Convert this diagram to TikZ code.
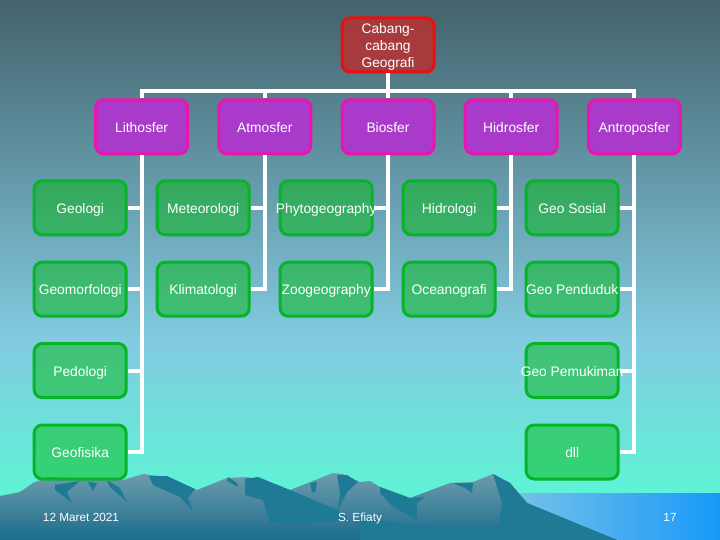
\documentclass[tikz,border=0pt]{standalone}
\usepackage{fontspec}
\setmainfont{Liberation Sans}
\usepackage{tikz}
\usetikzlibrary{positioning}
\definecolor{langitatas}{HTML}{44626C}
\definecolor{langittengah}{HTML}{82CBE0}
\definecolor{langitbawah}{HTML}{5CF5D5}
\definecolor{gunungatas}{HTML}{6E9CAC}
\definecolor{gunungbawah}{HTML}{1B6C8C}
\definecolor{bayangan}{HTML}{1F7A95}
\newcommand{\lebar}[1]{\makebox[0pt]{#1}}
\tikzset{
    %Define style for boxes
    kotak/.style={
           rectangle,
           rounded corners=8pt,
           line width=3pt,
           minimum width=92pt,
           minimum height=54pt,
           inner sep=0pt,
           align=center,
           text=white,
           text opacity=1,
           text height=13pt,
           text depth=2pt,
           font=\fontsize{13.8}{17}\selectfont},
    akar/.style={
           kotak,
           text height=47pt,
           draw={rgb,255:red,232;green,16;blue,16},
           fill={rgb,255:red,183;green,50;blue,50},
           fill opacity=0.85},
    cabang/.style={
           kotak,
           draw={rgb,255:red,232;green,21;blue,176},
           fill={rgb,255:red,175;green,55;blue,205},
           fill opacity=0.95},
    ranting/.style={
           kotak,
           draw={rgb,255:red,6;green,180;blue,40},
           fill={rgb,255:red,5;green,185;blue,20},
           fill opacity=0.5},
    % Define line style
    garis/.style={
           draw=white,
           line width=4pt},
    % Node for footer
    kaki/.style={
           text=white,
           inner sep=0pt,
           text height=10pt,
           text depth=2pt,
           font=\fontsize{11.8}{14}\selectfont},
    bayang/.style={
           fill=bayangan}
}
\begin{document}
\begin{tikzpicture}[x=1pt, y=-1pt, on grid]
    \useasboundingbox (0,0) rectangle (720,540);
    % background
    \shade[top color=langitatas, bottom color=langittengah] (0,0) rectangle (720,340);
    \shade[top color=langittengah, bottom color=langitbawah] (0,340) rectangle (720,500);
    \shade[left color={rgb,255:red,130;green,198;blue,232}, right color={rgb,255:red,24;green,153;blue,248}] (490,493) rectangle (720,540);
    % mountains
    \shade[top color=gunungatas, bottom color=gunungbawah]
        (0,496) -- (20,492) -- (33,483) -- (48,477) -- (77,478) -- (107,479) -- (123,480)
        -- (143,474) -- (167,477) -- (197,490) -- (227,478) -- (248,477) -- (290,490)
        -- (333,473) -- (343,474) -- (360,482) -- (370,481) -- (380,487) -- (410,498)
        -- (450,483) -- (473,482) -- (493,474) -- (510,483) -- (527,503) -- (573,522)
        -- (617,540) -- (0,540) -- cycle;
    \fill[bayang] (55,485) -- (80,481) -- (67,492) -- (72,503) -- (55,490) -- cycle;
    \fill[bayang] (88,482) -- (97,483) -- (93,491) -- cycle;
    \fill[bayang] (107,480) -- (120,488) -- (127,502) -- (110,487) -- cycle;
    \fill[bayang] (149,476) -- (167,476) -- (195,489) -- (188,498) -- (193,511) -- (180,497) -- (153,485) -- cycle;
    \fill[bayang] (228,477) -- (237,483) -- (238,487) -- (227,481) -- cycle;
    \fill[bayang] (245,479) -- (258,477) -- (290,490) -- (337,510) -- (350,520) -- (300,524) -- (270,523) -- (263,500) -- (245,495) -- cycle;
    \fill[bayang] (310,483) -- (317,482) -- (315,493) -- (312,492) -- cycle;
    \fill[bayang] (337,475) -- (347,475) -- (358,482) -- (347,492) -- (338,510) -- (340,493) -- cycle;
    \fill[bayang] (380,487) -- (410,498) -- (425,497) -- (417,503) -- (417,520) -- (393,507) -- (380,493) -- cycle;
    \fill[bayang] (453,483) -- (473,483) -- (472,493) -- (465,488) -- cycle;
    \fill[bayang] (493,474) -- (510,483) -- (527,503) -- (573,522) -- (617,540) -- (567,540) -- (520,517) -- (498,527) -- (502,503) -- cycle;
    \fill[bayang] (360,518) -- (417,525) -- (498,527) -- (520,517) -- (567,540) -- (360,540) -- cycle;
    % boxes
    \node[akar] (root) at (388,45) {Cabang-\\cabang\\Geografi};
    \node[cabang, below=81.8pt of root] (biosfer) {Biosfer};
    \node[cabang, left=123.2pt of biosfer] (atmosfer) {Atmosfer};
    \node[cabang, left=123.2pt of atmosfer] (lithosfer) {Lithosfer};
    \node[cabang, right=123.2pt of biosfer] (hidrosfer) {Hidrosfer};
    \node[cabang, right=123.2pt of hidrosfer] (antroposfer) {Antroposfer};
    \node[ranting, below left=81pt and 61.4pt of lithosfer] (geologi) {Geologi};
    \node[ranting, right=123pt of geologi] (meteorologi) {Meteorologi};
    \node[ranting, right=123pt of meteorologi] (phyto) {\lebar{Phytogeography}};
    \node[ranting, right=123pt of phyto] (hidrologi) {Hidrologi};
    \node[ranting, right=123pt of hidrologi] (sosial) {Geo Sosial};
    \node[ranting, below=81.4pt of geologi] (geomorfologi) {Geomorfologi};
    \node[ranting, right=123pt of geomorfologi] (klimatologi) {Klimatologi};
    \node[ranting, right=123pt of klimatologi] (zoo) {Zoogeography};
    \node[ranting, right=123pt of zoo] (oceanografi) {Oceanografi};
    \node[ranting, right=123pt of oceanografi] (penduduk) {\lebar{Geo Penduduk}};
    \node[ranting, below=81.4pt of geomorfologi] (pedologi) {Pedologi};
    \node[ranting, below=81.4pt of penduduk] (pemukiman) {\lebar{Geo Pemukiman}};
    \node[ranting, below=81.4pt of pedologi] (geofisika) {Geofisika};
    \node[ranting, below=81.4pt of pemukiman] (dll) {dll};
    % lines
    \coordinate (bus) at (388,91);
    \draw[garis] (root.south) -- (bus);
    \draw[garis] (lithosfer.north) |- (bus) -| (antroposfer.north);
    \foreach \cb in {atmosfer,biosfer,hidrosfer}
        \draw[garis] (\cb.north) -- (\cb.north |- bus);
    \draw[garis] (lithosfer.south) |- (geofisika.east);
    \draw[garis] (atmosfer.south) |- (klimatologi.east);
    \draw[garis] (biosfer.south) |- (zoo.east);
    \draw[garis] (hidrosfer.south) |- (oceanografi.east);
    \draw[garis] (antroposfer.south) |- (dll.east);
    \draw[garis] (geologi.east) -- (geologi.east -| lithosfer.south);
    \draw[garis] (geomorfologi.east) -- (geomorfologi.east -| lithosfer.south);
    \draw[garis] (pedologi.east) -- (pedologi.east -| lithosfer.south);
    \draw[garis] (meteorologi.east) -- (meteorologi.east -| atmosfer.south);
    \draw[garis] (phyto.east) -- (phyto.east -| biosfer.south);
    \draw[garis] (hidrologi.east) -- (hidrologi.east -| hidrosfer.south);
    \draw[garis] (sosial.east) -- (sosial.east -| antroposfer.south);
    \draw[garis] (penduduk.east) -- (penduduk.east -| antroposfer.south);
    \draw[garis] (pemukiman.east) -- (pemukiman.east -| antroposfer.south);
    % footer
    \node[kaki] (tanggal) at (81,517.5) {12 Maret 2021};
    \node[kaki] (nama) at (360,517.5) {S. Efiaty};
    \node[kaki] (nomor) at (670,517.5) {17};
\end{tikzpicture}
\end{document}
